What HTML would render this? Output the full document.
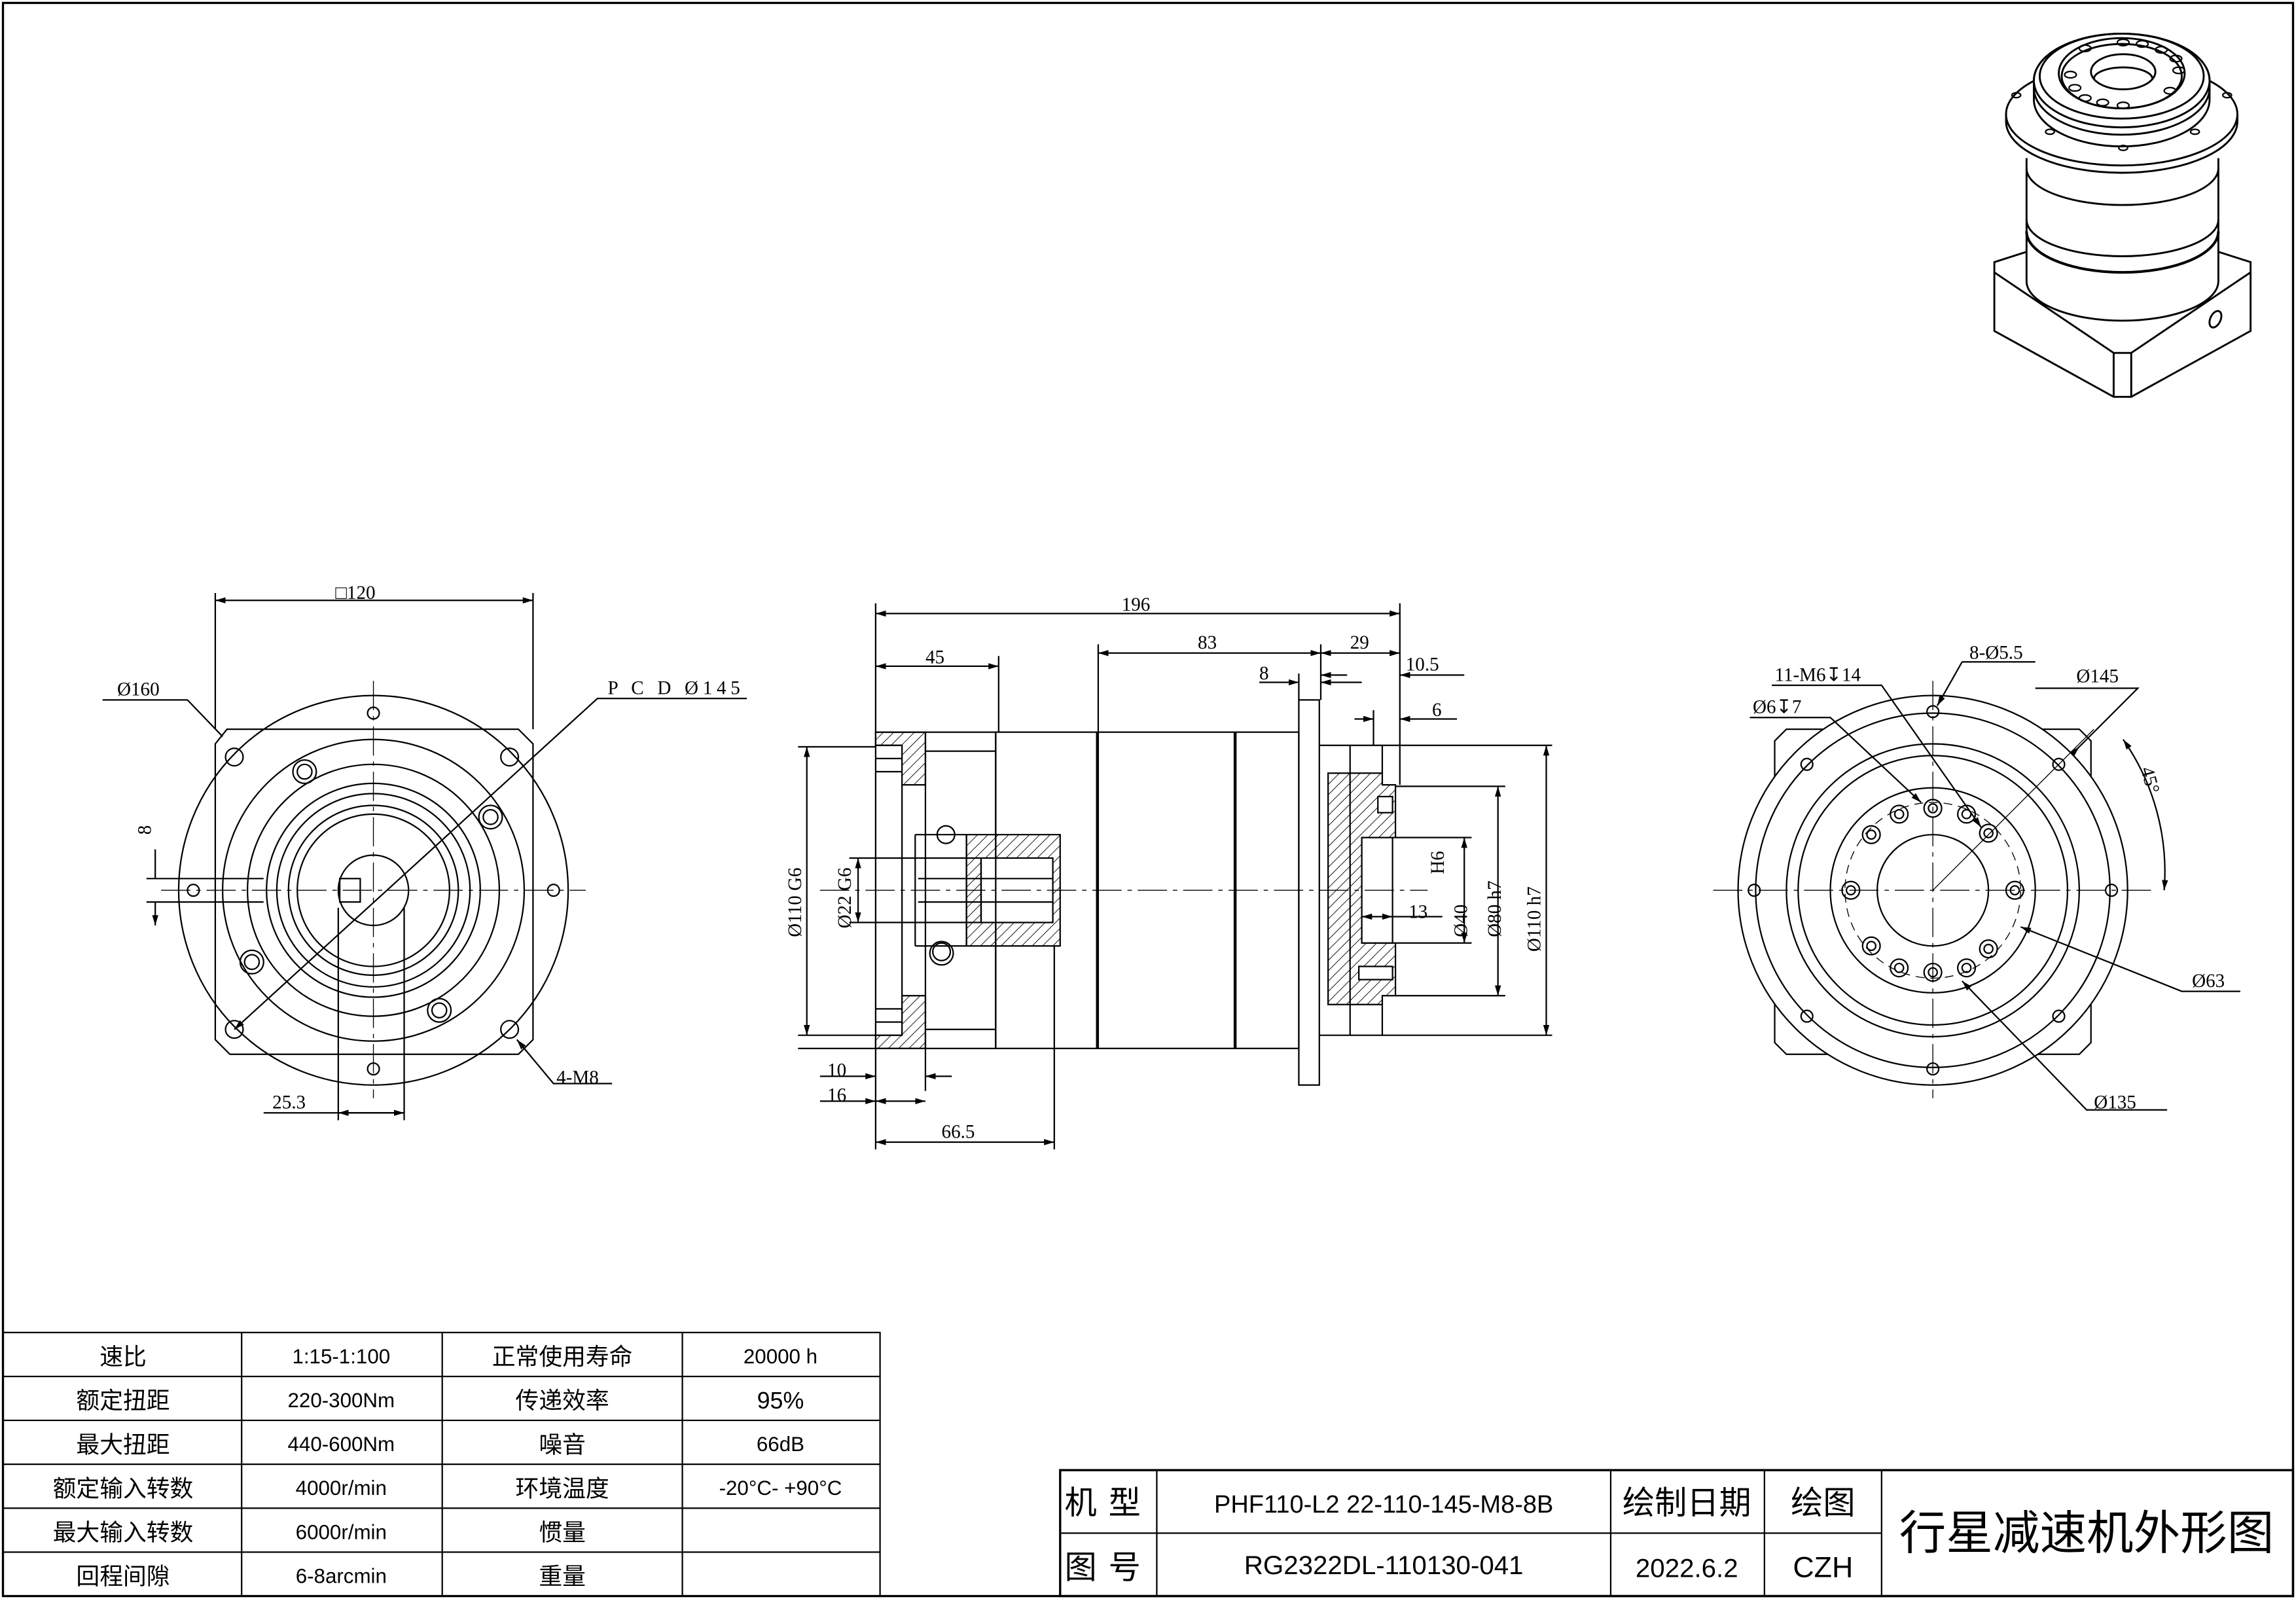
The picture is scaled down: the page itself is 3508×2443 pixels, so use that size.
<!DOCTYPE html>
<html><head><meta charset="utf-8"><style>
html,body{margin:0;padding:0;background:#fff}
svg{display:block}
text{font-family:"Liberation Serif","Noto Serif CJK SC","Noto Sans CJK SC",serif;fill:#000}
.s text{font-family:"Liberation Sans","Noto Sans CJK SC",sans-serif}
</style></head><body>
<svg width="3508" height="2443" viewBox="0 0 1568 1092" xmlns="http://www.w3.org/2000/svg">
<defs>
<pattern id="h" width="5" height="5" patternUnits="userSpaceOnUse" patternTransform="rotate(45)"><line x1="0" y1="0" x2="0" y2="5" stroke="#000" stroke-width="0.8"/></pattern>
<marker id="a" viewBox="0 0 10 10" refX="10" refY="5" markerWidth="7" markerHeight="7" orient="auto-start-reverse"><path d="M0,2 L10,5 L0,8z" fill="#000"/></marker>
</defs>
<g fill="none" stroke="#000" stroke-width="1">
<rect x="2" y="2" width="1564" height="1088" stroke-width="1.5"/>

<!-- table -->
<rect x="2" y="910" width="599" height="180"/>
<path d="M2 940H601M2 970H601M2 1000H601M2 1030H601M2 1060H601M165 910V1090M302 910V1090M466 910V1090"/>
<!-- title block -->
<rect x="724" y="1004" width="842" height="86" stroke-width="1.5"/>
<path d="M724 1047H1285M790 1004V1090M1100 1004V1090M1205 1004V1090M1285 1004V1090"/>

<!-- LEFT VIEW -->
<circle cx="255" cy="608" r="133"/>
<path d="M155 498H354L364 508V710L354 720H157L147 710V508Z"/>
<circle cx="255" cy="608" r="103"/>
<circle cx="255" cy="608" r="86"/>
<circle cx="255" cy="608" r="73"/>
<circle cx="255" cy="608" r="66"/>
<circle cx="255" cy="608" r="58"/>
<circle cx="255" cy="608" r="52"/>
<circle cx="255" cy="608" r="24"/>
<rect x="232" y="600" width="14" height="16"/>
<g>
<circle cx="160" cy="517" r="6"/><circle cx="348" cy="517" r="6"/><circle cx="160" cy="703" r="6"/><circle cx="348" cy="703" r="6"/>
<circle cx="208" cy="527" r="8"/><circle cx="208" cy="527" r="5"/>
<circle cx="335" cy="558" r="8"/><circle cx="335" cy="558" r="5"/>
<circle cx="172" cy="657" r="8"/><circle cx="172" cy="657" r="5"/>
<circle cx="300" cy="690" r="8"/><circle cx="300" cy="690" r="5"/>
<circle cx="132" cy="608" r="4"/><circle cx="378" cy="608" r="4"/><circle cx="255" cy="487" r="4"/><circle cx="255" cy="730" r="4"/>
</g>
<path d="M110 608H400M255 465V750" stroke-dasharray="20 4 3 4" stroke-width="0.6"/>
<path d="M147 498V405M364 498V405"/>
<path d="M147 410H364" marker-start="url(#a)" marker-end="url(#a)"/>
<path d="M70 478H128L152 503"/>
<path d="M160 703L408 477H510" marker-start="url(#a)"/>
<path d="M353 710L378 740H418" marker-start="url(#a)"/>
<path d="M100 600H180M100 616H180"/>
<path d="M106 580V600M106 616V632" marker-end="url(#a)"/>
<path d="M231 620V765M276 620V765"/>
<path d="M180 760H276" /><path d="M231 760H276" marker-start="url(#a)" marker-end="url(#a)"/>

<!-- MIDDLE VIEW -->
<!-- left flange -->
<path d="M598 500H632V716H598Z"/>
<path d="M598 500H632V536H616V509H598Z" fill="url(#h)"/>
<path d="M616 680H632V716H598V707H616Z" fill="url(#h)"/>
<path d="M598 509H616M598 518H616M598 527H616M616 536V680M598 707H616M598 698H616M598 689H616"/>
<!-- second part -->
<path d="M632 500H680V716H632"/>
<path d="M632 513H680M632 703H680"/>
<path d="M680 500V570M680 646V716"/>
<path d="M625 570H660V646H625"/>
<path d="M625 570V646"/>
<circle cx="646" cy="570" r="6"/><circle cx="643" cy="650" r="6"/><circle cx="643" cy="651" r="8"/>
<path d="M660 570H724V646H660Z" fill="url(#h)"/>
<rect x="670" y="586" width="49" height="44" fill="#fff"/>
<path d="M627 586H670M627 630H670M627 600H719M627 616H719M670 586V630"/>
<!-- body -->
<rect x="680" y="500" width="69" height="216"/>
<rect x="750" y="500" width="93" height="216"/>
<path d="M749 500V716"/>
<rect x="844" y="500" width="43" height="216"/>
<rect x="887" y="478" width="14" height="263"/>
<!-- output -->
<path d="M901 509H922V707H901"/>
<path d="M922 509H944V528M922 707H944V686"/>
<path d="M907 528H944V536H953V572H930V644H953V680H944V686H907Z" fill="url(#h)"/>
<rect x="930" y="572" width="21" height="72" fill="#fff"/>
<rect x="941" y="544" width="10" height="11" fill="#fff"/><rect x="928" y="660" width="23" height="9" fill="#fff"/>
<path d="M560 608H975" stroke-dasharray="20 4 3 4" stroke-width="0.6"/>
<path d="M598 500V412M956 536V412M682 500V448M750 500V440M902 478V440M887 478V460M938 509V485"/>
<path d="M598 419H956" marker-start="url(#a)" marker-end="url(#a)"/>
<path d="M598 455H682" marker-start="url(#a)" marker-end="url(#a)"/>
<path d="M750 446H902" marker-start="url(#a)" marker-end="url(#a)"/>
<path d="M902 446H956" marker-start="url(#a)" marker-end="url(#a)"/>
<path d="M860 466H887" marker-end="url(#a)"/><path d="M930 466H902" marker-end="url(#a)"/>
<path d="M1000 461H956" marker-end="url(#a)"/><path d="M920 461H902" marker-end="url(#a)"/>
<path d="M995 491H956" marker-end="url(#a)"/><path d="M925 491H938" marker-end="url(#a)"/>
<path d="M545 510H598M545 707H598M545 716H598"/>
<path d="M551 510V707" marker-start="url(#a)" marker-end="url(#a)"/>
<path d="M586 586V630" marker-start="url(#a)" marker-end="url(#a)"/>
<path d="M580 586H627M580 630H627"/>
<path d="M944 509H1060M944 707H1060M953 537H1028M953 680H1028M953 572H1005M953 644H1005"/>
<path d="M1056 509V707" marker-start="url(#a)" marker-end="url(#a)"/>
<path d="M1023 537V680" marker-start="url(#a)" marker-end="url(#a)"/>
<path d="M1000 572V644" marker-start="url(#a)" marker-end="url(#a)"/>
<path d="M930 626H951" marker-start="url(#a)" marker-end="url(#a)"/><path d="M951 626H985"/>
<path d="M598 716V785M632 716V745M720 646V785"/>
<path d="M560 735H598" marker-end="url(#a)"/><path d="M650 735H632" marker-end="url(#a)"/>
<path d="M560 752H598" marker-end="url(#a)"/>
<path d="M598 780H720" marker-start="url(#a)" marker-end="url(#a)"/>
<path d="M598 752H632" marker-start="url(#a)" marker-end="url(#a)"/>

<!-- RIGHT VIEW -->
<path d="M1220 498H1420L1428 506V712L1420 720H1220L1212 712V506Z"/>
<circle cx="1320" cy="608" r="133" fill="#fff"/>
<circle cx="1320" cy="608" r="121"/>
<circle cx="1320" cy="608" r="100"/>
<circle cx="1320" cy="608" r="92"/>
<circle cx="1320" cy="608" r="70"/>
<circle cx="1320" cy="608" r="38"/>
<circle cx="1320" cy="608" r="60" stroke-dasharray="6 4" stroke-width="0.6"/>
<g>
<circle cx="1320" cy="486" r="4"/><circle cx="1320" cy="730" r="4"/><circle cx="1198" cy="608" r="4"/><circle cx="1442" cy="608" r="4"/>
<circle cx="1406" cy="522" r="4"/><circle cx="1234" cy="522" r="4"/><circle cx="1406" cy="694" r="4"/><circle cx="1234" cy="694" r="4"/>
</g>
<g>
<circle cx="1320" cy="552" r="6"/><circle cx="1320" cy="552" r="3"/>
<circle cx="1320" cy="664" r="6"/><circle cx="1320" cy="664" r="3"/>
<circle cx="1376" cy="608" r="6"/><circle cx="1376" cy="608" r="3"/>
<circle cx="1264" cy="608" r="6"/><circle cx="1264" cy="608" r="3"/>
<circle cx="1297" cy="556" r="6"/><circle cx="1297" cy="556" r="3"/>
<circle cx="1343" cy="556" r="6"/><circle cx="1343" cy="556" r="3"/>
<circle cx="1358" cy="569" r="6"/><circle cx="1358" cy="569" r="3"/>
<circle cx="1278" cy="570" r="6"/><circle cx="1278" cy="570" r="3"/>
<circle cx="1278" cy="646" r="6"/><circle cx="1278" cy="646" r="3"/>
<circle cx="1358" cy="648" r="6"/><circle cx="1358" cy="648" r="3"/>
<circle cx="1297" cy="661" r="6"/><circle cx="1297" cy="661" r="3"/>
<circle cx="1343" cy="661" r="6"/><circle cx="1343" cy="661" r="3"/>
</g>
<path d="M1170 608H1470M1320 465V750" stroke-dasharray="20 4 3 4" stroke-width="0.6"/>
<path d="M1320 608L1430 498" stroke-width="0.6"/>
<path d="M1450 505A158 158 0 0 1 1478 608" marker-start="url(#a)" marker-end="url(#a)"/>
<path d="M1390 470H1460L1415 515" /><path d="M1415 515L1420 510" marker-end="url(#a)"/>
<path d="M1340 452H1390M1340 452L1323 482" marker-end="url(#a)"/>
<path d="M1210 468H1285L1353 565" marker-end="url(#a)"/>
<path d="M1195 490H1250L1312 548" marker-end="url(#a)"/>
<path d="M1530 677H1490L1380 633" marker-end="url(#a)"/>
<path d="M1480 758H1425L1340 670" marker-end="url(#a)"/>

<!-- 3D VIEW -->
<g stroke-width="1.3">
<!-- base -->
<path d="M1384 172L1362 179V226L1443.5 271H1455.5L1537 226V179L1515 172"/>
<path d="M1362 186L1443.5 241H1455.5L1537 186"/>
<path d="M1443.5 241V271M1455.5 241V271"/>
<ellipse cx="1513" cy="218" rx="3.5" ry="6" transform="rotate(25 1513 218)"/>
<!-- cylinder -->
<path d="M1384 108V192A65.5 27 0 0 0 1515 192V108" fill="#fff"/>
<path d="M1384 115A65.5 25 0 0 0 1515 115"/>
<path d="M1384 150A65.5 25 0 0 0 1515 150"/>
<path d="M1384 158A65.5 28 0 0 0 1515 158" stroke-width="1.8"/>
<!-- big flange -->
<ellipse cx="1449" cy="78" rx="79" ry="35" fill="#fff"/>
<path d="M1370 83A79 35 0 0 0 1528 83"/>
<path d="M1370 78V83M1528 78V83"/>
<!-- top cylinder -->
<ellipse cx="1449" cy="55" rx="60" ry="32" fill="#fff"/>
<path d="M1389 55V68A60 32 0 0 0 1509 68V55" fill="#fff"/>
<path d="M1389 60A60 32 0 0 0 1509 60"/>
<ellipse cx="1449" cy="55" rx="60" ry="32"/>
<ellipse cx="1449" cy="52" rx="56" ry="29"/>
<ellipse cx="1449" cy="50" rx="43" ry="24"/>
<ellipse cx="1449" cy="52" rx="41" ry="22"/>
<ellipse cx="1450" cy="49" rx="22" ry="12"/>
<path d="M1430 54A20 8 0 0 1 1470 54"/>
<g stroke-width="1">
<ellipse cx="1450" cy="29" rx="4" ry="2.2"/><ellipse cx="1463" cy="30" rx="4" ry="2.2"/><ellipse cx="1476" cy="34" rx="4" ry="2.2"/>
<ellipse cx="1486" cy="40" rx="4" ry="2.2"/><ellipse cx="1488" cy="48" rx="4" ry="2.2"/><ellipse cx="1482" cy="62" rx="4" ry="2.2"/>
<ellipse cx="1450" cy="72" rx="4" ry="2.2"/><ellipse cx="1436" cy="70" rx="4" ry="2.2"/><ellipse cx="1424" cy="67" rx="4" ry="2.2"/>
<ellipse cx="1417" cy="60" rx="4" ry="2.2"/><ellipse cx="1414" cy="51" rx="4" ry="2.2"/><ellipse cx="1424" cy="33" rx="4" ry="2.2"/>
<ellipse cx="1377" cy="65" rx="3" ry="1.7"/><ellipse cx="1521" cy="65" rx="3" ry="1.7"/>
<ellipse cx="1400" cy="90" rx="3" ry="1.7"/><ellipse cx="1499" cy="90" rx="3" ry="1.7"/><ellipse cx="1450" cy="101" rx="3" ry="1.7"/>
</g>
</g>
</g>

<g font-size="13">
<text x="229" y="409">□120</text>
<text x="80" y="475">Ø160</text>
<text x="415" y="474" letter-spacing="3">P C D Ø145</text>
<text x="380" y="740">4-M8</text>
<text x="186" y="757">25.3</text>
<text x="0" y="0" transform="translate(103 570) rotate(-90)">8</text>
<text x="766" y="417">196</text>
<text x="632" y="453">45</text>
<text x="818" y="443">83</text>
<text x="922" y="443">29</text>
<text x="860" y="464">8</text>
<text x="960" y="458">10.5</text>
<text x="978" y="489">6</text>
<text x="962" y="627">13</text>
<text x="565" y="735">10</text>
<text x="565" y="752">16</text>
<text x="643" y="777">66.5</text>
<text transform="translate(547 640) rotate(-90)">Ø110 G6</text>
<text transform="translate(581 634) rotate(-90)">Ø22 G6</text>
<text transform="translate(986 597) rotate(-90)">H6</text>
<text transform="translate(1002 640) rotate(-90)">Ø40</text>
<text transform="translate(1025 640) rotate(-90)">Ø80 h7</text>
<text transform="translate(1052 650) rotate(-90)">Ø110 h7</text>
<text x="1345" y="450">8-Ø5.5</text>
<text x="1418" y="466">Ø145</text>
<text x="1212" y="465">11-M6↧14</text>
<text x="1197" y="487">Ø6↧7</text>
<text transform="translate(1462 525) rotate(75)">45°</text>
<text x="1497" y="674">Ø63</text>
<text x="1430" y="757">Ø135</text>
</g>

<g font-size="16" text-anchor="middle" class="s">
<text x="84" y="932">速比</text><text x="233" y="931" font-size="14">1:15-1:100</text><text x="384" y="932">正常使用寿命</text><text x="533" y="931" font-size="14">20000 h</text>
<text x="84" y="962">额定扭距</text><text x="233" y="961" font-size="14">220-300Nm</text><text x="384" y="962">传递效率</text><text x="533" y="962">95%</text>
<text x="84" y="992">最大扭距</text><text x="233" y="991" font-size="14">440-600Nm</text><text x="384" y="992">噪音</text><text x="533" y="991" font-size="14">66dB</text>
<text x="84" y="1022">额定输入转数</text><text x="233" y="1021" font-size="14">4000r/min</text><text x="384" y="1022">环境温度</text><text x="533" y="1021" font-size="14">-20°C- +90°C</text>
<text x="84" y="1052">最大输入转数</text><text x="233" y="1051" font-size="14">6000r/min</text><text x="384" y="1052">惯量</text>
<text x="84" y="1082">回程间隙</text><text x="233" y="1081" font-size="14">6-8arcmin</text><text x="384" y="1082">重量</text>
</g>
<g font-size="22" text-anchor="middle" class="s">
<text x="757" y="1034" letter-spacing="8">机型</text>
<text x="757" y="1078" letter-spacing="8">图号</text>
<text x="945" y="1033" font-size="17">PHF110-L2 22-110-145-M8-8B</text>
<text x="945" y="1075" font-size="18">RG2322DL-110130-041</text>
<text x="1152" y="1034">绘制日期</text>
<text x="1152" y="1077" font-size="18">2022.6.2</text>
<text x="1245" y="1034">绘图</text>
<text x="1245" y="1077" font-size="20">CZH</text>
<text x="1425" y="1058" font-size="32">行星减速机外形图</text>
</g>
</svg>
</body></html>
